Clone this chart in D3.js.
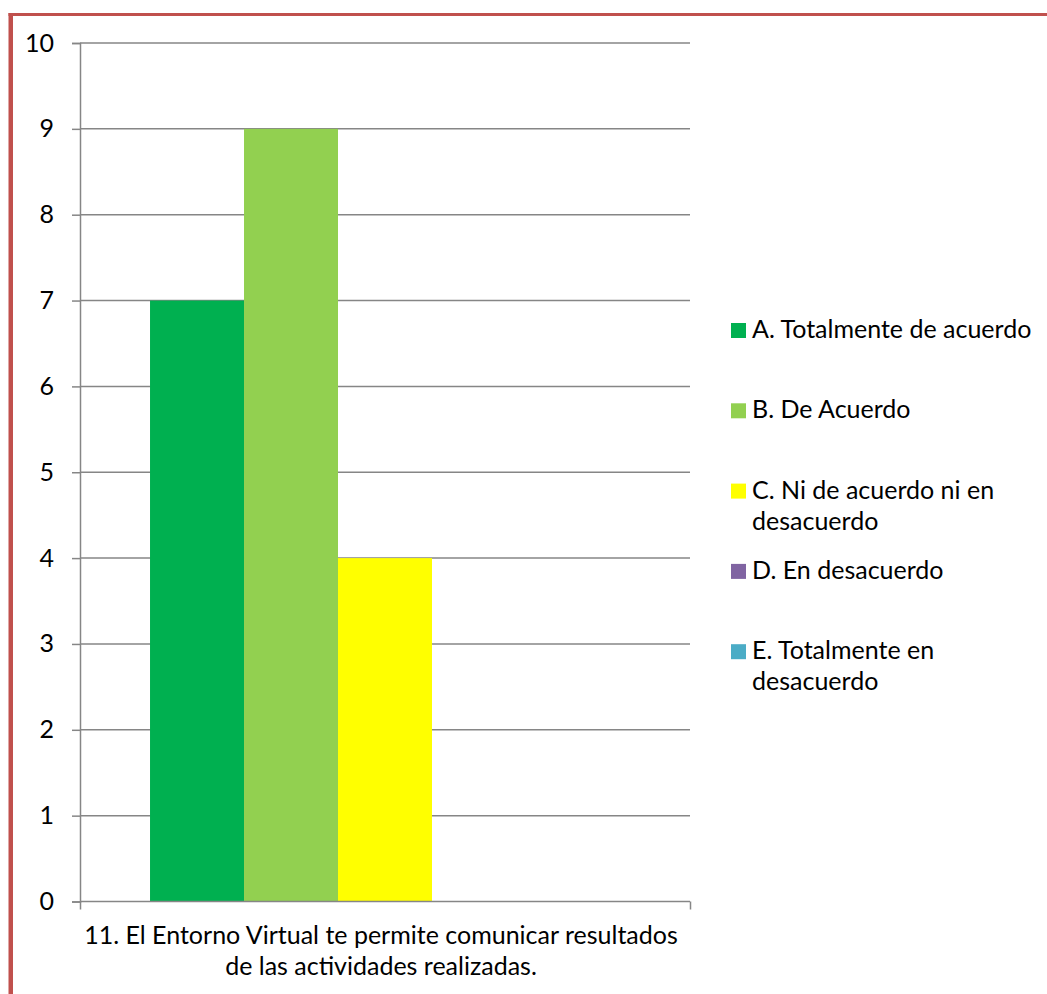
<!DOCTYPE html>
<html>
<head>
<meta charset="utf-8">
<script src="https://cdn.jsdelivr.net/npm/d3@7"></script>
<style>
  html, body { margin: 0; padding: 0; background: #fff; }
  svg { display: block; }
  text { font-family: Lato, "Open Sans", sans-serif; fill: #000; }
</style>
</head>
<body>
<svg id="chart" width="1047" height="994"></svg>
<script>
const categoryLines = ["11. El Entorno Virtual te permite comunicar resultados", "de las actividades realizadas."];
const seriesNames = ["A. Totalmente de acuerdo", "B. De Acuerdo", "C. Ni de acuerdo ni en desacuerdo", "D. En desacuerdo", "E. Totalmente en desacuerdo"];
const legendLines = [["A. Totalmente de acuerdo"], ["B. De Acuerdo"], ["C. Ni de acuerdo ni en", "desacuerdo"], ["D. En desacuerdo"], ["E. Totalmente en", "desacuerdo"]];
const seriesValues = [7, 9, 4, 0, 0];
const seriesColors = ["#00B050", "#92D050", "#FFFF00", "#8064A2", "#4BACC6"];
const yTicks = [0, 1, 2, 3, 4, 5, 6, 7, 8, 9, 10];

const svg = d3.select("#chart");
const fontSize = 25;

// frame border (top and left)
svg.append("rect").attr("x", 8.5).attr("y", 13).attr("width", 1047).attr("height", 3).attr("fill", "#C0504D");
svg.append("rect").attr("x", 8.5).attr("y", 13).attr("width", 4.5).attr("height", 994).attr("fill", "#C0504D");

const plotLeft = 80, plotRight = 690, plotTop = 43, plotBottom = 901.5;

const y = d3.scaleLinear().domain([0, 10]).range([plotBottom, plotTop]);
const x = d3.scaleBand().domain(seriesNames).range([plotLeft, plotRight]).paddingInner(0).paddingOuter(0.745);

// gridlines
svg.append("g").selectAll("line").data(yTicks.filter(d => d > 0)).join("line")
  .attr("x1", plotLeft).attr("x2", plotRight)
  .attr("y1", d => y(d)).attr("y2", d => y(d))
  .attr("stroke", "#868686").attr("stroke-width", 1.5);

// bars
svg.append("g").selectAll("rect").data(seriesNames).join("rect")
  .attr("x", d => x(d))
  .attr("width", x.bandwidth())
  .attr("y", (d, i) => y(seriesValues[i]))
  .attr("height", (d, i) => y(0) - y(seriesValues[i]))
  .attr("fill", (d, i) => seriesColors[i]);

// y axis
const yAxis = svg.append("g").attr("transform", `translate(${plotLeft},0)`)
  .call(d3.axisLeft(y).tickValues(yTicks).tickSize(8).tickPadding(18).tickFormat(d3.format("d")));
yAxis.select(".domain").attr("stroke", "#868686").attr("stroke-width", 1.5);
yAxis.selectAll(".tick line").attr("stroke", "#868686").attr("stroke-width", 1.5);
yAxis.selectAll(".tick text").attr("font-size", fontSize).attr("font-family", "Lato, sans-serif").attr("fill", "#000");

// x axis
const xOuter = d3.scalePoint().domain(["start", "end"]).range([plotLeft, plotRight]);
const xAxis = svg.append("g").attr("transform", `translate(0,${plotBottom})`)
  .call(d3.axisBottom(xOuter).tickSize(8).tickFormat(""));
xAxis.select(".domain").attr("stroke", "#868686").attr("stroke-width", 1.5).attr("d", `M${plotLeft},0H${plotRight}`);
xAxis.selectAll(".tick line").attr("stroke", "#868686").attr("stroke-width", 1.5);

// category label
const catX = (plotLeft + plotRight) / 2 - 4;
svg.append("text").attr("text-anchor", "middle").attr("font-size", fontSize)
  .selectAll("tspan").data(categoryLines).join("tspan")
  .attr("x", catX).attr("y", (d, i) => 944 + i * 31).text(d => d);

// legend
const legend = svg.append("g").selectAll("g").data(legendLines).join("g")
  .attr("transform", (d, i) => `translate(731,${323 + i * 80.3})`);
legend.append("rect").attr("width", 15).attr("height", 15).attr("fill", (d, i) => seriesColors[i]);
legend.append("text").attr("font-size", fontSize)
  .selectAll("tspan").data(d => d).join("tspan")
  .attr("x", 21).attr("y", (d, i) => 15 + i * 31).text(d => d);
</script>
</body>
</html>
